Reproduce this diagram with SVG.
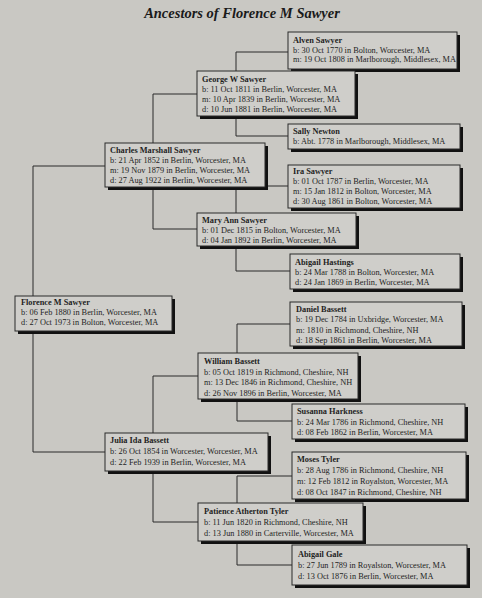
<svg xmlns="http://www.w3.org/2000/svg" width="482" height="598" viewBox="0 0 482 598">
<style>
.bg{fill:#c9c8c3}
.box{fill:#cfceca;stroke:#2a2a2a;stroke-width:1}
.sh{fill:#111}
.t{font-family:"Liberation Serif","Times New Roman",serif;font-size:8.3px;fill:#1e1e1e}
.n{font-weight:bold}
.title{font-family:"Liberation Serif","Times New Roman",serif;font-size:14.5px;font-weight:bold;font-style:italic;fill:#1a1a1a}
.c{fill:none;stroke:#2a2a2a;stroke-width:1}
</style>
<rect class="bg" x="0" y="0" width="482" height="598"/>
<text class="title" x="242" y="18" text-anchor="middle">Ancestors of Florence M Sawyer</text>
<g id="connectors">
<path class="c" d="M105,166 H33 V452 H105"/>
<path class="c" d="M197,94 H153 V229 H197"/>
<path class="c" d="M288,52 H236 V136 H288"/>
<path class="c" d="M288,186 H236 V271 H290"/>
<path class="c" d="M290,324 H237 V421 H292"/>
<path class="c" d="M292,476 H237 V565 H292"/>
<path class="c" d="M198,376 H153 V522 H198"/>
</g>
<g id="alven"><rect class="sh" x="291" y="35" width="169" height="37"/><rect class="box" x="288" y="32" width="169" height="37"/>
<text class="t" x="293" y="43"><tspan class="n">Alven Sawyer</tspan><tspan x="293" dy="9.5">b: 30 Oct 1770 in Bolton, Worcester, MA</tspan><tspan x="293" dy="9.5">m: 19 Oct 1808 in Marlborough, Middlesex, MA</tspan></text></g>
<g id="george"><rect class="sh" x="200" y="74" width="158" height="45"/><rect class="box" x="197" y="71" width="158" height="45"/>
<text class="t" x="202" y="82"><tspan class="n">George W Sawyer</tspan><tspan x="202" dy="10">b: 11 Oct 1811 in Berlin, Worcester, MA</tspan><tspan x="202" dy="10">m: 10 Apr 1839 in Berlin, Worcester, MA</tspan><tspan x="202" dy="10">d: 10 Jun 1881 in Berlin, Worcester, MA</tspan></text></g>
<g id="sally"><rect class="sh" x="291" y="127" width="172" height="25"/><rect class="box" x="288" y="124" width="172" height="25"/>
<text class="t" x="293" y="134"><tspan class="n">Sally Newton</tspan><tspan x="293" dy="10">b: Abt. 1778 in Marlborough, Middlesex, MA</tspan></text></g>
<g id="charles"><rect class="sh" x="108" y="146" width="160" height="44"/><rect class="box" x="105" y="143" width="160" height="44"/>
<text class="t" x="110" y="153"><tspan class="n">Charles Marshall Sawyer</tspan><tspan x="110" dy="10">b: 21 Apr 1852 in Berlin, Worcester, MA</tspan><tspan x="110" dy="10">m: 19 Nov 1879 in Berlin, Worcester, MA</tspan><tspan x="110" dy="10">d: 27 Aug 1922 in Berlin, Worcester, MA</tspan></text></g>
<g id="ira"><rect class="sh" x="291" y="168" width="172" height="43"/><rect class="box" x="288" y="165" width="172" height="43"/>
<text class="t" x="293" y="174"><tspan class="n">Ira Sawyer</tspan><tspan x="293" dy="10">b: 01 Oct 1787 in Berlin, Worcester, MA</tspan><tspan x="293" dy="10">m: 15 Jan 1812 in Bolton, Worcester, MA</tspan><tspan x="293" dy="10">d: 30 Aug 1861 in Bolton, Worcester, MA</tspan></text></g>
<g id="maryann"><rect class="sh" x="200" y="216" width="159" height="33"/><rect class="box" x="197" y="213" width="159" height="33"/>
<text class="t" x="202" y="223"><tspan class="n">Mary Ann Sawyer</tspan><tspan x="202" dy="10">b: 01 Dec 1815 in Bolton, Worcester, MA</tspan><tspan x="202" dy="10">d: 04 Jan 1892 in Berlin, Worcester, MA</tspan></text></g>
<g id="abigailh"><rect class="sh" x="293" y="257" width="170" height="35"/><rect class="box" x="290" y="254" width="170" height="35"/>
<text class="t" x="295" y="265"><tspan class="n">Abigail Hastings</tspan><tspan x="295" dy="10">b: 24 Mar 1788 in Bolton, Worcester, MA</tspan><tspan x="295" dy="10">d: 24 Jan 1869 in Berlin, Worcester, MA</tspan></text></g>
<g id="florence"><rect class="sh" x="18" y="299" width="157" height="35"/><rect class="box" x="15" y="296" width="157" height="35"/>
<text class="t" x="21" y="305"><tspan class="n">Florence M Sawyer</tspan><tspan x="21" dy="10">b: 06 Feb 1880 in Berlin, Worcester, MA</tspan><tspan x="21" dy="10">d: 27 Oct 1973 in Bolton, Worcester, MA</tspan></text></g>
<g id="daniel"><rect class="sh" x="293" y="305" width="172" height="44"/><rect class="box" x="290" y="302" width="172" height="44"/>
<text class="t" x="296" y="312"><tspan class="n">Daniel Bassett</tspan><tspan x="296" dy="10.3">b: 19 Dec 1784 in Uxbridge, Worcester, MA</tspan><tspan x="296" dy="10.3">m: 1810 in Richmond, Cheshire, NH</tspan><tspan x="296" dy="10.3">d: 18 Sep 1861 in Berlin, Worcester, MA</tspan></text></g>
<g id="william"><rect class="sh" x="201" y="356" width="160" height="46"/><rect class="box" x="198" y="353" width="160" height="46"/>
<text class="t" x="204" y="364"><tspan class="n">William Bassett</tspan><tspan x="204" dy="10.7">b: 05 Oct 1819 in Richmond, Cheshire, NH</tspan><tspan x="204" dy="10.7">m: 13 Dec 1846 in Richmond, Cheshire, NH</tspan><tspan x="204" dy="10.7">d: 26 Nov 1896 in Berlin, Worcester, MA</tspan></text></g>
<g id="susanna"><rect class="sh" x="295" y="407" width="173" height="35"/><rect class="box" x="292" y="404" width="173" height="35"/>
<text class="t" x="297" y="414"><tspan class="n">Susanna Harkness</tspan><tspan x="297" dy="10.7">b: 24 Mar 1786 in Richmond, Cheshire, NH</tspan><tspan x="297" dy="10.7">d: 08 Feb 1862 in Berlin, Worcester, MA</tspan></text></g>
<g id="julia"><rect class="sh" x="108" y="436" width="163" height="38"/><rect class="box" x="105" y="433" width="163" height="38"/>
<text class="t" x="110" y="443"><tspan class="n">Julia Ida Bassett</tspan><tspan x="110" dy="11">b: 26 Oct 1854 in Worcester, Worcester, MA</tspan><tspan x="110" dy="11">d: 22 Feb 1939 in Berlin, Worcester, MA</tspan></text></g>
<g id="moses"><rect class="sh" x="295" y="455" width="174" height="47"/><rect class="box" x="292" y="452" width="174" height="47"/>
<text class="t" x="297" y="462"><tspan class="n">Moses Tyler</tspan><tspan x="297" dy="11">b: 28 Aug 1786 in Richmond, Cheshire, NH</tspan><tspan x="297" dy="11">m: 12 Feb 1812 in Royalston, Worcester, MA</tspan><tspan x="297" dy="11">d: 08 Oct 1847 in Richmond, Cheshire, NH</tspan></text></g>
<g id="patience"><rect class="sh" x="201" y="506" width="165" height="38"/><rect class="box" x="198" y="503" width="165" height="38"/>
<text class="t" x="204" y="514"><tspan class="n">Patience Atherton Tyler</tspan><tspan x="204" dy="11">b: 11 Jun 1820 in Richmond, Cheshire, NH</tspan><tspan x="204" dy="11">d: 13 Jun 1880 in Carterville, Worcester, MA</tspan></text></g>
<g id="abigailg"><rect class="sh" x="295" y="548" width="175" height="40"/><rect class="box" x="292" y="545" width="175" height="40"/>
<text class="t" x="298" y="557"><tspan class="n">Abigail Gale</tspan><tspan x="298" dy="11">b: 27 Jun 1789 in Royalston, Worcester, MA</tspan><tspan x="298" dy="11">d: 13 Oct 1876 in Berlin, Worcester, MA</tspan></text></g>
</svg>
